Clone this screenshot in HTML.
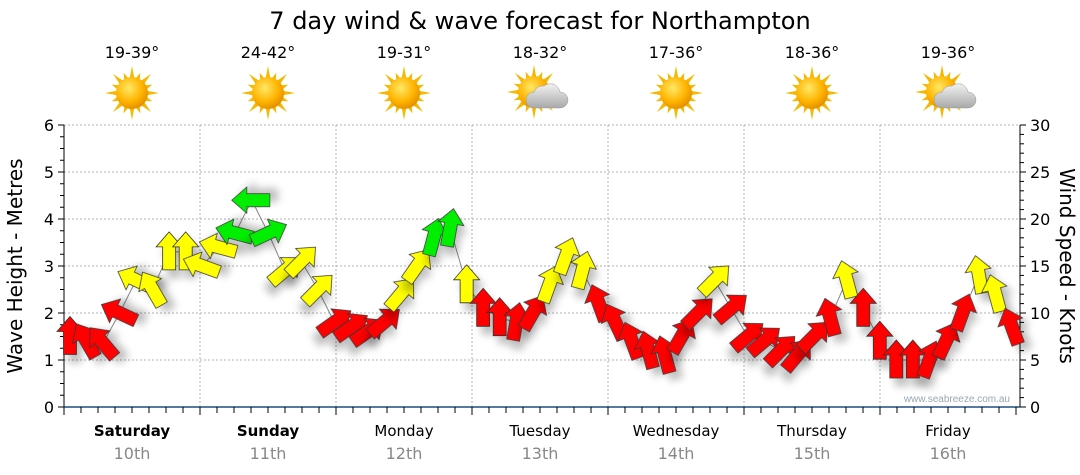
<!DOCTYPE html>
<html><head><meta charset="utf-8"><style>
body{margin:0;background:#fff;}
svg{display:block;font-family:"DejaVu Sans","Liberation Sans",sans-serif;}
</style></head><body>
<svg id="chart" width="1080" height="475" viewBox="0 0 1080 475" xmlns="http://www.w3.org/2000/svg">
<defs>
<filter id="sh" x="-50%" y="-50%" width="200%" height="200%"><feGaussianBlur in="SourceAlpha" stdDeviation="4"/><feOffset dx="5" dy="8"/><feComponentTransfer><feFuncA type="linear" slope="0.25"/></feComponentTransfer><feMerge><feMergeNode/><feMergeNode in="SourceGraphic"/></feMerge></filter>
<radialGradient id="sun" cx="40%" cy="35%" r="70%"><stop offset="0" stop-color="#ffe866"/><stop offset="0.6" stop-color="#ffb400"/><stop offset="1" stop-color="#e08a00"/></radialGradient>
<linearGradient id="cloud" x1="0" y1="0" x2="0" y2="1"><stop offset="0" stop-color="#f2f2f2"/><stop offset="1" stop-color="#a8a8a8"/></linearGradient>
</defs>
<text x="540" y="29" text-anchor="middle" font-size="24" fill="#000">7 day wind &amp; wave forecast for Northampton</text>
<g id="grid"></g>
<g id="axes"></g>
<g id="header"></g>
<text x="1010" y="402" text-anchor="end" font-size="10" fill="#9aa6b4" font-family="Liberation Sans, sans-serif">www.seabreeze.com.au</text>
<g id="marks"></g>
<text transform="translate(22,266) rotate(-90)" text-anchor="middle" font-size="20" fill="#000">Wave Height - Metres</text>
<text transform="translate(1060,266) rotate(90)" text-anchor="middle" font-size="20" fill="#000">Wind Speed - Knots</text>
</svg>
<script>
const days = ["Saturday","Sunday","Monday","Tuesday","Wednesday","Thursday","Friday"];
const dates = ["10th","11th","12th","13th","14th","15th","16th"];
const temps = ["19-39°","24-42°","19-31°","18-32°","17-36°","18-36°","19-36°"];
const cloudy = [false,false,false,true,false,false,true];
const leftTicks = [0,1,2,3,4,5,6];
const rightTicks = [0,5,10,15,20,25,30];
const windKnots = [7.5,7,6.8,10,13.5,12.5,16.5,16.5, 15,17,18.5,22,18.5,14.5,15.5,12.5, 9,8.5,8,9,12,15,18,19, 13,10.5,9.5,9,10,13,16,14.5, 11,9,7,6,5.5,7.5,10,13.5, 10.5,7.5,7,6,5.5,7.5,9.5,13.5, 10.5,7,5,5,5,7,10,14, 12,8.5];
const windDir = [0,-30,-40,-65,-65,-30,0,0, -70,-75,-75,-90,65,50,45,45, 55,55,55,50,40,35,15,10, 0,0,0,10,30,20,20,15, -20,-25,-20,-15,-15,30,45,45, 50,50,50,45,40,45,-15,-15, 0,0,0,0,20,25,20,-10, -15,-20];
const NS="http://www.w3.org/2000/svg";
const X0=64,X1=1020,Y0=407,Y1=125;
const xDay=d=>X0+d*136;
const xPt=i=>X0+6+i*(X1-X0-14)/(windKnots.length-1);
const yM=m=>Y0-(Y0-Y1)*m/6;
const yK=k=>Y0-(Y0-Y1)*k/30;
function el(tag,attrs,parent){const e=document.createElementNS(NS,tag);for(const k in attrs)e.setAttribute(k,attrs[k]);parent.appendChild(e);return e;}
const grid=document.getElementById('grid'),axes=document.getElementById('axes'),header=document.getElementById('header'),marks=document.getElementById('marks');
for(const m of leftTicks){if(m===0)continue;const l=el('line',{x1:X0,x2:X1,y1:yM(m),y2:yM(m),stroke:'#b0b0b0','stroke-dasharray':'2,2'},grid);

}
for(let d=1;d<7;d++){const l=el('line',{x1:xDay(d),x2:xDay(d),y1:Y1,y2:Y0,stroke:'#b0b0b0','stroke-dasharray':'2,2'},grid);

}
el('line',{x1:X0,x2:X0,y1:Y1,y2:Y0,stroke:'#000'},axes);
el('line',{x1:X1,x2:X1,y1:Y1,y2:Y0,stroke:'#000'},axes);
el('line',{x1:X0,x2:X1,y1:Y0,y2:Y0,stroke:'#1c4f80','stroke-width':1.5},axes);
for(let q=0;q<=24;q++){const y=yM(q/4);el('line',{x1:X0-(q%4?4:6),x2:X0,y1:y,y2:y,stroke:'#000'},axes);}
for(let k=0;k<=30;k++){const y=yK(k);el('line',{x1:X1,x2:X1+(k%5?4:6),y1:y,y2:y,stroke:'#000'},axes);}
for(const m of leftTicks){const t=el('text',{x:X0-10,y:yM(m)+6,'text-anchor':'end','font-size':16},axes);t.textContent=m;

}
for(const k of rightTicks){const t=el('text',{x:X1+10,y:yK(k)+6,'font-size':16},axes);t.textContent=k;

}
for(let s=0;s<=56;s++){const x=X0+s*17;el('line',{x1:x,x2:x,y1:Y0,y2:Y0+(s%8?6:8),stroke:'#000'},axes);}
days.forEach((d,i)=>{const cx=xDay(i)+68;
const t=el('text',{x:cx,y:436,'text-anchor':'middle','font-size':15,'font-weight':i<2?'bold':'normal'},axes);t.textContent=d;


const t2=el('text',{x:cx,y:459,'text-anchor':'middle','font-size':16,fill:'#888'},axes);t2.textContent=dates[i];


const t3=el('text',{x:cx,y:58,'text-anchor':'middle','font-size':16},header);t3.textContent=temps[i];


const g=el('g',{transform:`translate(${cx},${cloudy[i]?96:93})`},header);


const ox=cloudy[i]?-6:0,oy=cloudy[i]?-4:0;
for(let r=0;r<16;r++){const a=r*Math.PI/8,L=r%2?22:27;const p=[[ox+Math.cos(a)*L,oy+Math.sin(a)*L],[ox+Math.cos(a+0.18)*14,oy+Math.sin(a+0.18)*14],[ox+Math.cos(a-0.18)*14,oy+Math.sin(a-0.18)*14]];
el('polygon',{points:p.map(q=>q.join(',')).join(' '),fill:'#f5b800'},g);}
el('circle',{cx:ox,cy:oy,r:16,fill:'url(#sun)'},g);
if(cloudy[i]){el('path',{d:'M-6,12 h26 a8,8 0 0 0 0,-16 a10,10 0 0 0 -16,-6 a9,9 0 0 0 -10,6 a8,8 0 0 0 0,16z',fill:'url(#cloud)',stroke:'#999','stroke-width':0.5},g);}
});
const pts=windKnots.map((k,i)=>[xPt(i),yK(k)]);
const pl=el('polyline',{points:pts.map(p=>p.join(',')).join(' '),fill:'none',stroke:'#888','stroke-width':1},marks);


const arrowPts="0,-20 13,-5 6.5,-5 6.5,18 -6.5,18 -6.5,-5 -13,-5";
windKnots.forEach((k,i)=>{const col=k>=17.5?'#00ee00':(k>=11.5?'#ffff00':'#ff0000');
const p=el('polygon',{points:arrowPts,transform:`translate(${xPt(i)},${yK(k)}) rotate(${windDir[i]})`,fill:col,stroke:'#333','stroke-width':0.8,filter:'url(#sh)'},marks);

});
</script>
</body></html>
